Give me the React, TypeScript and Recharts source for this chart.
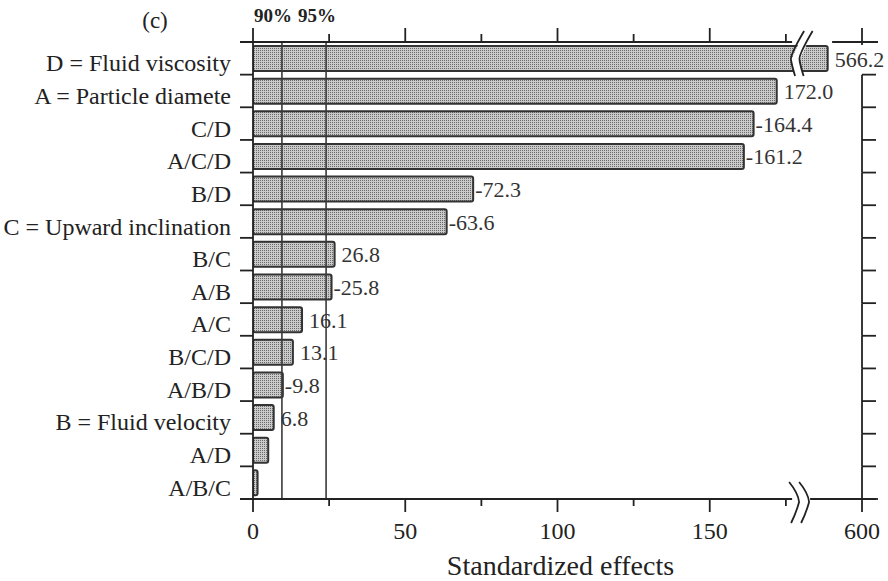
import { BarChart, Bar, XAxis, YAxis, ReferenceLine, LabelList } from "recharts"

const factors = [
  "D = Fluid viscosity",
  "A = Particle diamete",
  "C/D",
  "A/C/D",
  "B/D",
  "C = Upward inclination",
  "B/C",
  "A/B",
  "A/C",
  "B/C/D",
  "A/B/D",
  "B = Fluid velocity",
  "A/D",
  "A/B/C",
]
const effects = [566.2, 172.0, -164.4, -161.2, -72.3, -63.6, 26.8, -25.8, 16.1, 13.1, -9.8, 6.8, 5.0, 1.5]
// the two smallest effects carry no printed value in the figure
const unlabelled = ["A/D", "A/B/C"]
const majorTicks = [0, 50, 100, 150, 600]
const minorTicks = [25, 75, 125, 175]
const limits = [
  { name: "90%", value: 9.5 },
  { name: "95%", value: 24.0 },
]

// broken axis: 0..180 is linear, then 540..600 squeezed into the last part
const BREAK_AT = 180
const UPPER_FROM = 540
const UPPER_TO = 600
const AXIS_END = 200
const toAxis = (v: number) =>
  v <= BREAK_AT ? v : BREAK_AT + ((v - UPPER_FROM) * (AXIS_END - BREAK_AT)) / (UPPER_TO - UPPER_FROM)
const fromAxis = (d: number) =>
  d <= BREAK_AT ? d : UPPER_FROM + ((d - BREAK_AT) * (UPPER_TO - UPPER_FROM)) / (AXIS_END - BREAK_AT)

const rows = factors.map((factor, i) => ({
  factor,
  effect: effects[i],
  plot: toAxis(Math.abs(effects[i])),
  label: unlabelled.includes(factor) ? "" : effects[i].toFixed(1),
}))
const axisTicks = [...majorTicks, ...minorTicks, BREAK_AT]
  .map((v) => (v === BREAK_AT ? v : toAxis(v)))
  .sort((a, b) => a - b)

const W = 888
const H = 581
const TOP_H = 42
const BOTTOM_H = 82
const LEFT_W = 253
const RIGHT_W = 26
const HALF_BAND = (H - TOP_H - BOTTOM_H) / factors.length / 2
const PX_PER_UNIT = (W - LEFT_W - RIGHT_W) / AXIS_END
const INK = "#222"
const FONT = "'Liberation Serif', 'Times New Roman', serif"
const SW = 1.8

// draws the bottom axis ticks and the mirrored frame on top (y = TOP_H)
function AxisTick({ x, y, payload }: any) {
  const d = payload.value
  const top = TOP_H
  if (d === BREAK_AT) {
    return (
      <g>
        <rect x={x - 9} y={y - 3} width={18} height={6} fill="#fff" />
        <path d={`M${x - 12},${y - 17} Q${x - 3},${y - 6} ${x - 2},${y + 3} Q${x - 5},${y + 14} ${x - 10},${y + 24}`} fill="none" stroke={INK} strokeWidth={SW} />
        <path d={`M${x - 2},${y - 17} Q${x + 7},${y - 6} ${x + 8},${y + 3} Q${x + 5},${y + 14} ${x},${y + 24}`} fill="none" stroke={INK} strokeWidth={SW} />
      </g>
    )
  }
  const v = fromAxis(d)
  const major = majorTicks.includes(v)
  const breakX = x + (BREAK_AT - d) * PX_PER_UNIT
  return (
    <g>
      {v === 0 && (
        <>
          <line x1={x - 13} x2={x} y1={y} y2={y} stroke={INK} strokeWidth={SW} />
          <line x1={x - 13} x2={breakX - 9} y1={top} y2={top} stroke={INK} strokeWidth={SW} />
        </>
      )}
      {d === AXIS_END && (
        <>
          <line x1={x} x2={x + 16} y1={y} y2={y} stroke={INK} strokeWidth={SW} />
          <line x1={breakX + 31} x2={x + 16} y1={top} y2={top} stroke={INK} strokeWidth={SW} />
        </>
      )}
      <line x1={x} x2={x} y1={y} y2={y + (major ? 13 : 7)} stroke={INK} strokeWidth={SW} />
      <line x1={x} x2={x} y1={top + (d === AXIS_END ? 3 : 0)} y2={top - (major ? 14 : 8)} stroke={INK} strokeWidth={SW} />
      {major && (
        <text x={x} y={y + 40} textAnchor="middle" fontSize={24} fontFamily={FONT} fill={INK}>
          {Math.round(v)}
        </text>
      )}
    </g>
  )
}

function FactorTick({ x, y, payload, index }: any) {
  return (
    <g>
      <text x={x - 22} y={y + 13} textAnchor="end" fontSize={24} fontFamily={FONT} fill={INK}>
        {payload.value}
      </text>
      {index === 0 && <line x1={x - 13} x2={x} y1={y - HALF_BAND} y2={y - HALF_BAND} stroke={INK} strokeWidth={SW} />}
      <line x1={x - 13} x2={x} y1={y + HALF_BAND} y2={y + HALF_BAND} stroke={INK} strokeWidth={SW} />
    </g>
  )
}

function RightTick({ x, y, index }: any) {
  return (
    <g>
      {index > 0 && <line x1={x} x2={x} y1={y - HALF_BAND} y2={y + HALF_BAND} stroke={INK} strokeWidth={SW} />}
      <line x1={x} x2={x + 14} y1={y + HALF_BAND} y2={y + HALF_BAND} stroke={INK} strokeWidth={SW} />
    </g>
  )
}

function EffectBar(props: any) {
  const { x, y, width, height, payload } = props
  const body = (
    <rect x={x} y={y} width={width} height={height} rx={2} fill="url(#stipple)" stroke="#333" strokeWidth={2} />
  )
  if (payload.plot <= BREAK_AT) return body
  const xb = x + (width * BREAK_AT) / payload.plot
  const cy = y + height / 2
  const l1 = [
    [xb + 3, y - 15],
    [xb - 10, cy + 2],
    [xb - 6, y + height + 5],
  ]
  const l2 = l1.map(([px, py]) => [px + 8.5, py])
  const curve = (p: number[][]) => `M${p[0][0]},${p[0][1]} Q${p[1][0] - 2},${p[1][1] - 4} ${p[1][0]},${p[1][1]} Q${p[1][0] + 1},${p[1][1] + 6} ${p[2][0]},${p[2][1]}`
  const gap = [...l1, ...[...l2].reverse()].map((p) => p.join(",")).join(" ")
  return (
    <g>
      {body}
      <polygon points={gap} fill="#fff" />
      <path d={curve(l1)} fill="none" stroke={INK} strokeWidth={SW} />
      <path d={curve(l2)} fill="none" stroke={INK} strokeWidth={SW} />
    </g>
  )
}

function ValueLabel(props: any) {
  const { x, y, width, height, value } = props
  if (!value) return null
  return (
    <text x={x + width + (value.startsWith("-") ? 2 : 7)} y={y + height / 2 + 8} fontSize={22} fontFamily={FONT} fill="#333">
      {value}
    </text>
  )
}

export default function App() {
  return (
    <div style={{ position: "absolute", left: 0, top: 0, background: "#fff" }}>
      <BarChart
        width={W}
        height={H}
        data={rows}
        layout="vertical"
        margin={{ top: TOP_H, right: 0, bottom: 0, left: 0 }}
        barSize={25}
      >
        <defs>
          <pattern id="stipple" width={2} height={2} patternUnits="userSpaceOnUse">
            <rect width={2} height={2} fill="#cacaca" />
            <rect width={1} height={1} fill="#6a6a6a" />
          </pattern>
        </defs>
        <XAxis
          type="number"
          domain={[0, AXIS_END]}
          allowDataOverflow
          ticks={axisTicks}
          interval={0}
          height={BOTTOM_H}
          tickSize={0}
          tickMargin={0}
          axisLine={{ stroke: INK, strokeWidth: SW }}
          tick={<AxisTick />}
          label={(p: any) => (
            <text x={p.viewBox.x + p.viewBox.width / 2 + 3} y={p.viewBox.y + 76} textAnchor="middle" fontSize={28} fontFamily={FONT} fill={INK}>
              Standardized effects
            </text>
          )}
        />
        <YAxis
          type="category"
          dataKey="factor"
          width={LEFT_W}
          interval={0}
          tickSize={0}
          tickMargin={0}
          axisLine={{ stroke: INK, strokeWidth: SW }}
          tick={<FactorTick />}
          label={(p: any) => (
            <text x={p.viewBox.x + 155} y={p.viewBox.y - 14} textAnchor="middle" fontSize={23} fontFamily={FONT} fill={INK}>
              (c)
            </text>
          )}
        />
        <YAxis
          yAxisId="right"
          orientation="right"
          type="category"
          dataKey="factor"
          width={RIGHT_W}
          interval={0}
          tickSize={0}
          tickMargin={0}
          axisLine={false}
          tick={<RightTick />}
        />
        {limits.map((l) => (
          <ReferenceLine
            key={l.name}
            x={l.value}
            stroke="#3a3a3a"
            strokeWidth={1.6}
            label={(p: any) => (
              <text x={p.viewBox.x - 9} y={p.viewBox.y - 20} textAnchor="middle" fontSize={19} fontWeight="bold" fontFamily={FONT} fill={INK}>
                {l.name}
              </text>
            )}
          />
        ))}
        <Bar dataKey="plot" shape={<EffectBar />} isAnimationActive={false}>
          <LabelList dataKey="label" content={<ValueLabel />} />
        </Bar>
      </BarChart>
    </div>
  )
}
